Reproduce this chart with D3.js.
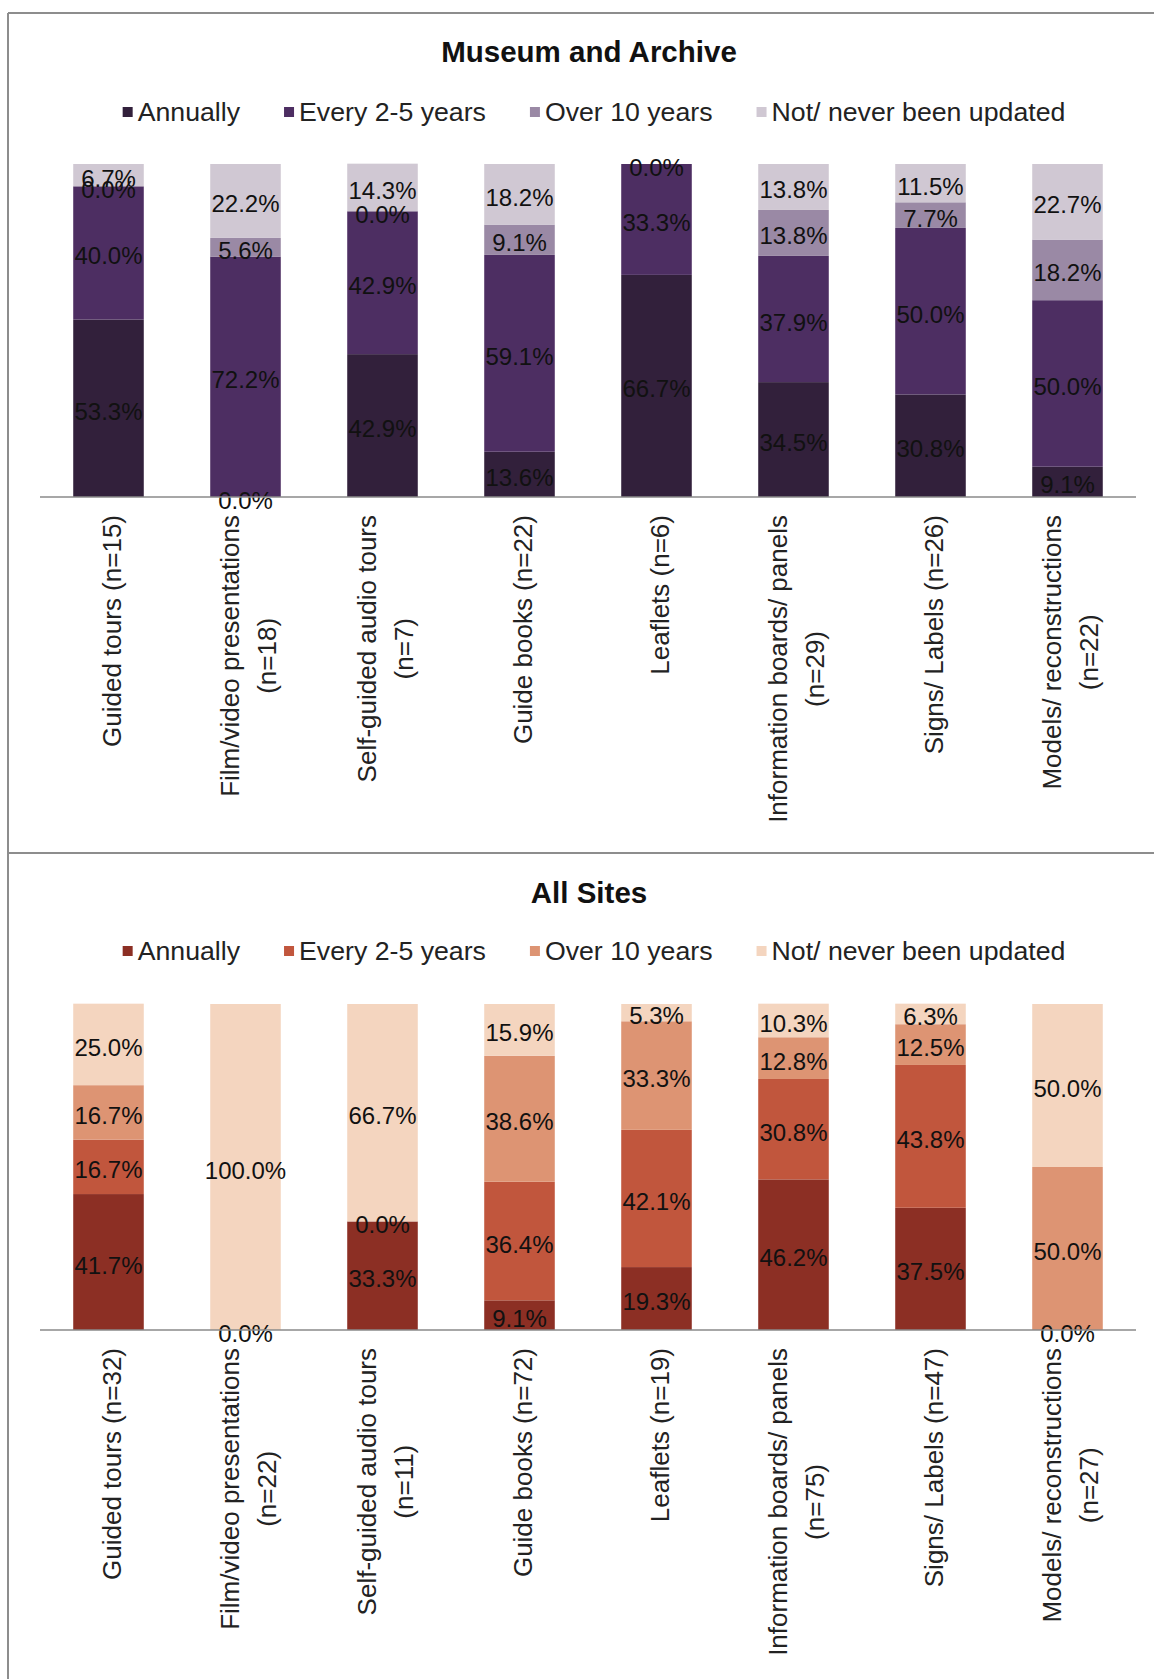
<!DOCTYPE html>
<html>
<head>
<meta charset="utf-8">
<script src="https://cdn.jsdelivr.net/npm/d3@7"></script>
<style>
  html, body { margin: 0; padding: 0; background: #fff; }
  svg { display: block; font-family: "Liberation Sans", Arial, Helvetica, sans-serif; }
</style>
</head>
<body>
<svg id="chart" width="1154" height="1679"></svg>
<script>
// Update frequency of interpretation media, shares in percent
const seriesNames = ["Annually", "Every 2-5 years", "Over 10 years", "Not/ never been updated"];

const museumCategories = [
  "Guided tours (n=15)",
  "Film/video presentations\n(n=18)",
  "Self-guided audio tours\n(n=7)",
  "Guide books (n=22)",
  "Leaflets (n=6)",
  "Information boards/ panels\n(n=29)",
  "Signs/ Labels (n=26)",
  "Models/ reconstructions\n(n=22)"
];
const museumAnnually = [53.3, 0.0, 42.9, 13.6, 66.7, 34.5, 30.8, 9.1];
const museumEvery2to5 = [40.0, 72.2, 42.9, 59.1, 33.3, 37.9, 50.0, 50.0];
const museumOver10 = [0.0, 5.6, 0.0, 9.1, 0.0, 13.8, 7.7, 18.2];
const museumNever = [6.7, 22.2, 14.3, 18.2, null, 13.8, 11.5, 22.7];

const allCategories = [
  "Guided tours (n=32)",
  "Film/video presentations\n(n=22)",
  "Self-guided audio tours\n(n=11)",
  "Guide books (n=72)",
  "Leaflets (n=19)",
  "Information boards/ panels\n(n=75)",
  "Signs/ Labels (n=47)",
  "Models/ reconstructions\n(n=27)"
];
const allAnnually = [41.7, 0.0, 33.3, 9.1, 19.3, 46.2, 37.5, 0.0];
const allEvery2to5 = [16.7, null, 0.0, 36.4, 42.1, 30.8, 43.8, null];
const allOver10 = [16.7, null, null, 38.6, 33.3, 12.8, 12.5, 50.0];
const allNever = [25.0, 100.0, 66.7, 15.9, 5.3, 10.3, 6.3, 50.0];

const purplePalette = ["#32203b", "#4d2e62", "#9a89a5", "#d0c8d3"];
const brownPalette = ["#8c2f24", "#c1563d", "#dd9473", "#f4d5bf"];

const panels = [
  { title: "Museum and Archive", titleY: 51, legendY: 112, top: 164, base: 497,
    categories: museumCategories, values: [museumAnnually, museumEvery2to5, museumOver10, museumNever],
    colors: purplePalette },
  { title: "All Sites", titleY: 892, legendY: 951, top: 1004, base: 1330,
    categories: allCategories, values: [allAnnually, allEvery2to5, allOver10, allNever],
    colors: brownPalette }
];

const svg = d3.select("#chart");

// frame around the two panels
const frame = svg.append("g").attr("stroke", "#8d8d8d").attr("stroke-width", 2).attr("fill", "none");
frame.append("line").attr("x1", 8).attr("x2", 1154).attr("y1", 13).attr("y2", 13);
frame.append("line").attr("x1", 8).attr("x2", 8).attr("y1", 13).attr("y2", 1679);
frame.append("line").attr("x1", 8).attr("x2", 1154).attr("y1", 853).attr("y2", 853);

panels.forEach(p => {
  const g = svg.append("g");

  const x = d3.scaleBand()
    .domain(p.categories)
    .range([40, 1136])
    .paddingInner(0.485)
    .paddingOuter(0.2425);
  const y = d3.scaleLinear().domain([0, 100]).range([p.base, p.top]);
  const color = d3.scaleOrdinal().domain(seriesNames).range(p.colors);

  const rows = p.categories.map((c, i) => {
    const r = { category: c };
    seriesNames.forEach((s, k) => { r[s] = p.values[k][i]; });
    return r;
  });
  const stacked = d3.stack().keys(seriesNames).value((d, k) => d[k] == null ? 0 : d[k])(rows);

  // title
  g.append("text")
    .attr("x", 589).attr("y", p.titleY)
    .attr("text-anchor", "middle").attr("dominant-baseline", "central")
    .attr("font-weight", "bold").attr("font-size", 29.5).attr("fill", "#111")
    .text(p.title);

  // legend
  const legend = g.append("g");
  let lx = 0;
  seriesNames.forEach(s => {
    const item = legend.append("g").attr("transform", `translate(${lx},${p.legendY})`);
    item.append("rect").attr("x", 0).attr("y", -5).attr("width", 10).attr("height", 10).attr("fill", color(s));
    const t = item.append("text").attr("x", 15).attr("y", 0)
      .attr("dominant-baseline", "central").attr("font-size", 26.7).attr("fill", "#222").text(s);
    lx += 15 + t.node().getComputedTextLength() + 44;
  });
  const legendWidth = lx - 44;
  legend.attr("transform", `translate(${594 - legendWidth / 2},0)`);

  // stacked bars
  const layers = g.append("g").selectAll("g").data(stacked).join("g").attr("fill", d => color(d.key));
  layers.selectAll("rect").data(d => d).join("rect")
    .attr("x", d => x(d.data.category))
    .attr("width", x.bandwidth())
    .attr("y", d => y(d[1]))
    .attr("height", d => y(d[0]) - y(d[1]));

  // value labels at segment centres
  const labels = g.append("g").attr("font-size", 24).attr("fill", "#111").attr("text-anchor", "middle");
  stacked.forEach(layer => {
    layer.forEach(d => {
      const v = d.data[layer.key];
      if (v == null) return;
      labels.append("text")
        .attr("x", x(d.data.category) + x.bandwidth() / 2)
        .attr("y", (y(d[0]) + y(d[1])) / 2 + 3)
        .attr("dominant-baseline", "central")
        .text(v.toFixed(1) + "%");
    });
  });

  // category axis
  g.append("line").attr("x1", 40).attr("x2", 1136).attr("y1", p.base).attr("y2", p.base)
    .attr("stroke", "#8a8a8a").attr("stroke-width", 1.5);

  p.categories.forEach(c => {
    const lines = c.split("\n");
    const cg = g.append("g").attr("font-size", 26).attr("fill", "#222");
    const ts = lines.map((ln, i) => cg.append("text")
      .attr("text-anchor", "middle").attr("dominant-baseline", "central")
      .attr("y", (i - (lines.length - 1) / 2) * 37)
      .text(ln));
    const maxLen = d3.max(ts, t => t.node().getComputedTextLength());
    ts.forEach(t => t.attr("x", -maxLen / 2));
    cg.attr("transform", `translate(${x(c) + x.bandwidth() / 2 + 3},${p.base + 18}) rotate(-90)`);
  });
});
</script>
</body>
</html>
